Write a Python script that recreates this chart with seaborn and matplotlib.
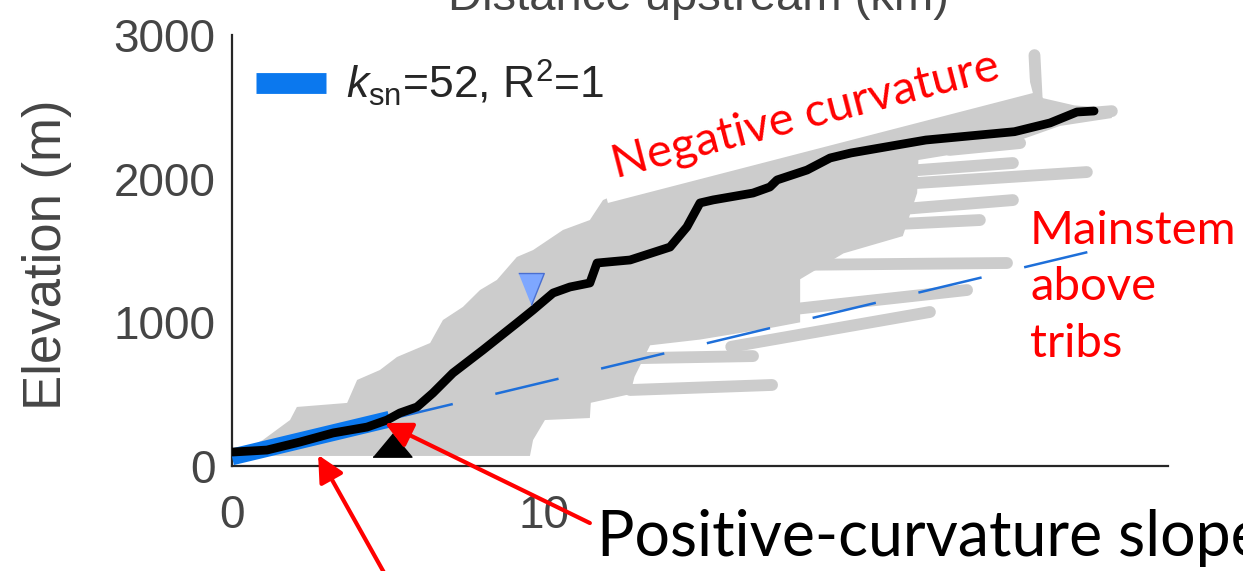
import matplotlib
matplotlib.use("Agg")
import matplotlib.pyplot as plt
import seaborn as sns
import pandas as pd
from matplotlib.lines import Line2D

# ---------------- data ----------------
# main-stem profile: distance upstream (km) / elevation (m)
main_x = [0.0, 1.12, 2.18, 3.24, 4.33, 4.97, 5.38, 5.93, 6.44, 7.08, 8.04, 9.13, 9.65,
          10.29, 10.83, 11.47, 11.70, 12.76, 14.04, 14.58, 15.0, 15.42, 16.7, 17.24,
          17.47, 18.43, 19.17, 19.84, 22.24, 25.08, 26.22, 27.08, 27.63]
main_z = [97, 111, 167, 230, 271, 320, 369, 411, 508, 647, 807, 995, 1086,
          1204, 1246, 1274, 1413, 1434, 1524, 1664, 1831, 1852, 1900, 1942,
          1991, 2060, 2144, 2179, 2269, 2327, 2388, 2464, 2471]

# ksn fit on the lower reach and its projection upstream
fit_x = [0.0, 5.05]
fit_z = [63, 326]
proj_x = [5.05, 27.6]
proj_z = [326, 1498]
fit_label = r"$k_{\rm sn}$=52, R$^2$=1"

# knickpoint markers
knick_x, knick_z = [5.13], [143]
junction_x, junction_z = [9.58], [1232]

# envelope of all tributary profiles (grey cloud)
cloud_top_x = [0.0, 0.99, 1.86, 2.08, 3.69, 4.01, 4.74, 5.29, 6.35, 6.76, 7.40, 7.95,
               8.49, 9.13, 9.65, 10.61, 11.47, 11.89, 13.0, 20.0, 25.6, 26.0, 27.0, 28.2]
cloud_top_z = [70, 181, 320, 411, 439, 599, 668, 759, 856, 1016, 1107, 1225,
               1295, 1455, 1503, 1643, 1712, 1851, 1960, 2340, 2640, 2560, 2510, 2490]
cloud_bot_x = [28.2, 26.54, 25.26, 23.97, 22.0, 21.96, 21.5, 19.6, 18.21, 18.21, 17.24,
               15.0, 13.4, 12.9, 12.76, 11.5, 11.47, 10.03, 9.65, 9.55, 0.99, 0.0]
cloud_bot_z = [2422, 2367, 2269, 2200, 2130, 1900, 1600, 1480, 1300, 1000, 960,
               880, 840, 620, 500, 440, 334, 320, 181, 70, 70, 28]

# individual tributary reaches sticking out of the cloud
trib_x0 = [12.76, 11.5, 16.0, 17.5, 18.0, 20.0, 21.0, 21.96, 22.0, 23.0, 25.8, 26.5]
trib_z0 = [529, 745, 830, 1080, 1400, 1670, 1780, 1970, 2060, 2200, 2520, 2440]
trib_x1 = [17.31, 16.7, 22.37, 23.56, 24.84, 23.97, 25.03, 27.4, 25.03, 25.26, 25.72, 28.2]
trib_z1 = [564, 765, 1072, 1225, 1413, 1712, 1851, 2046, 2109, 2248, 2860, 2470]

x_ticks = [0, 10, 20, 30]
x_ticklabels = ["0", "10", "", ""]
y_ticks = [0, 1000, 2000, 3000]

# ---------------- style ----------------
sns.set_style("white")
plt.rcParams["font.family"] = ["Liberation Sans", "DejaVu Sans"]
plt.rcParams["mathtext.fontset"] = "custom"
plt.rcParams["mathtext.rm"] = "Liberation Sans"
plt.rcParams["mathtext.it"] = "Liberation Sans:italic"

TXT = "#454545"
AX = "#262626"
GRAY = "#cccccc"
BLUE = "#0b78ee"
DBLUE = "#1e6fd9"
ANN = ["Lato", "DejaVu Sans"]

W, H = 1243, 571
fig = plt.figure(figsize=(W / 100, H / 100), dpi=100)
ax = fig.add_axes([232 / W, 1 - 466 / H, 936 / W, 431 / H])

# grey cloud
ax.fill(cloud_top_x + cloud_bot_x, cloud_top_z + cloud_bot_z, color=GRAY, lw=0, zorder=1)
for x0, z0, x1, z1 in zip(trib_x0, trib_z0, trib_x1, trib_z1):
    ax.plot([x0, x1], [z0, z1], color=GRAY, lw=8.5, solid_capstyle="round", zorder=1)

# projection (dashed) and fit band
ax.plot(proj_x, proj_z, color=DBLUE, lw=1.8, dashes=(26, 17.5), zorder=2)
ax.plot(fit_x, fit_z, color=BLUE, lw=12, solid_capstyle="butt", zorder=3)

# main stem
df = pd.DataFrame({"x": main_x, "z": main_z})
sns.lineplot(data=df, x="x", y="z", sort=False, estimator=None, color="black",
             lw=6.3, ax=ax, zorder=4)

# markers
ax.plot(knick_x, knick_z, linestyle="none", marker=[(-0.5, -0.3), (0.5, -0.3), (0, 0.3)],
        markersize=28, color="black", zorder=5)
ax.plot(junction_x, junction_z, linestyle="none",
        marker=[(-0.4, 0.5), (0.4, 0.5), (0, -0.5)], markersize=23,
        markerfacecolor="#7ea7ff", markeredgecolor="#4a6fd0", markeredgewidth=1, zorder=5)

# axes
ax.set_xlim(0, 30)
ax.set_ylim(0, 3000)
ax.set_xticks(x_ticks)
ax.set_xticklabels(x_ticklabels)
ax.set_yticks(y_ticks)
for s in ["top", "right"]:
    ax.spines[s].set_visible(False)
for s in ["left", "bottom"]:
    ax.spines[s].set_color(AX)
    ax.spines[s].set_linewidth(1.6)
ax.tick_params(axis="both", direction="in", length=8, width=1.5, color=AX,
               labelsize=33, labelcolor=TXT)
ax.tick_params(axis="y", pad=12)
ax.tick_params(axis="x", pad=20)
ax.set_xlabel("")
ax.set_ylabel("Elevation (m)", fontsize=38, color=TXT)
ax.yaxis.set_label_coords(-0.171, 0.49)

# legend
h = [Line2D([], [], color=BLUE, lw=15, solid_capstyle="butt")]
ax.legend(h, [fit_label], loc="upper left", bbox_to_anchor=(0.0255, 0.948), frameon=False,
          fontsize=32, handlelength=1.58, handletextpad=0.45, borderaxespad=0, borderpad=0)

# top (cropped) axis title of the panel above
fig.text(698 / W, 1 - 10 / H, "Distance upstream (km)", ha="center", va="baseline",
         fontsize=34, color=TXT)

# annotations
ax.text(12.31, 2005, "Negative curvature ", rotation=14.5, rotation_mode="anchor",
        ha="left", va="baseline", color="red", fontsize=34, family=ANN,
        bbox=dict(boxstyle="square,pad=0.3", fc="white", ec="none"), zorder=6)
ax.text(25.58, 761, "Mainstem\nabove\ntribs", ha="left", va="baseline", color="red",
        fontsize=34, family=ANN, linespacing=1.425, zorder=6)
fig.text(597 / W, 1 - 556 / H, "Positive-curvature slope", ha="left", va="baseline",
         color="black", fontsize=45, family=ANN)

arrow = dict(arrowstyle="-|>,head_length=0.8,head_width=0.4", color="red", lw=3,
             shrinkA=0, shrinkB=0, mutation_scale=20)
ax.annotate("", xy=(4.9, 299), xytext=(11.47, -397), arrowprops=arrow,
            annotation_clip=False, zorder=7)
ax.annotate("", xy=(2.76, 77), xytext=(4.97, -780), arrowprops=arrow,
            annotation_clip=False, zorder=7)

fig.savefig("out.png", dpi=100)
